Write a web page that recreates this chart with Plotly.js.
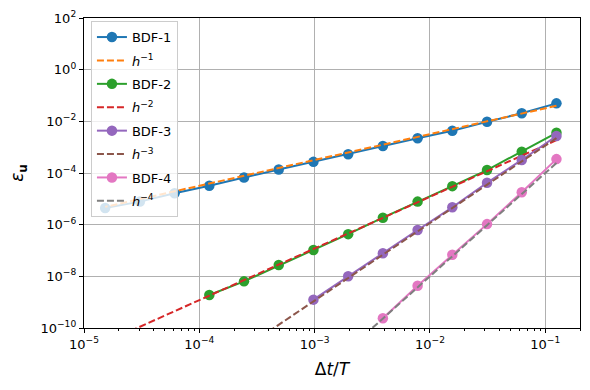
<!DOCTYPE html>
<html lang="en">
<head>
  <meta charset="UTF-8">
  <title>BDF convergence</title>
  <script src="https://cdn.plot.ly/plotly-3.0.1.min.js"></script>
  <style>
    body { margin: 0; background: #ffffff; }
    #graph { width: 590px; height: 390px; }
  </style>
</head>
<body>
  <div id="graph"></div>
  <script>
    // time step sizes dt/T
    const h = [0.125, 0.0625, 0.03125, 0.015625, 0.0078125, 0.00390625, 0.001953125,
      9.765625e-4, 4.8828125e-4, 2.44140625e-4, 1.220703125e-4, 6.103515625e-5,
      3.0517578125e-5, 1.52587890625e-5];

    const bdf1 = [0.0497, 0.0204, 0.00966, 0.00433, 0.0022, 0.00111, 5.3e-4,
      2.7e-4, 1.36e-4, 6.7e-5, 3.2e-5, 1.64e-5, 7.8e-6, 4.45e-6];
    const bdf2 = [3.6e-3, 6.7e-4, 1.3e-4, 3.1e-5, 7.8e-6, 1.86e-6, 4.3e-7,
      1.05e-7, 2.75e-8, 6.4e-9, 1.9e-9];
    const bdf3 = [2.7e-3, 3.2e-4, 4.2e-5, 4.7e-6, 6.2e-7, 7.8e-8, 1.0e-8, 1.25e-9];
    const bdf4 = [3.45e-4, 1.8e-5, 1.05e-6, 6.8e-8, 4.3e-9, 2.4e-10];

    // reference slopes
    const ref1 = [0.04, 0.02, 0.01, 0.005, 0.0025, 0.00125, 6.25e-4,
      3.125e-4, 1.5625e-4, 7.8125e-5, 3.90625e-5, 1.953e-5, 9.77e-6, 4.88e-6];
    const ref2 = [1.875e-3, 4.69e-4, 1.17e-4, 2.93e-5, 7.32e-6, 1.83e-6, 4.58e-7,
      1.14e-7, 2.86e-8, 7.15e-9, 1.79e-9, 4.47e-10, 1.12e-10, 2.79e-11];
    const ref3 = [2.25e-3, 2.81e-4, 3.51e-5, 4.39e-6, 5.48e-7, 6.85e-8, 8.57e-9,
      1.07e-9, 1.34e-10, 1.67e-11, 2.09e-12, 2.61e-13, 3.27e-14, 4.08e-15];
    const ref4 = [2.441e-4, 1.526e-5, 9.537e-7, 5.96e-8, 3.725e-9, 2.328e-10, 1.455e-11,
      9.09e-13, 5.68e-14, 3.55e-15, 2.22e-16, 1.39e-17, 8.67e-19, 5.42e-20];

    const xTicks = [1e-5, 1e-4, 1e-3, 1e-2, 1e-1];
    const xTickText = ['10<sup>−5</sup>', '10<sup>−4</sup>', '10<sup>−3</sup>', '10<sup>−2</sup>', '10<sup>−1</sup>'];
    const yTicks = [1e2, 1, 1e-2, 1e-4, 1e-6, 1e-8, 1e-10];
    const yTickText = ['10<sup>2</sup>', '10<sup>0</sup>', '10<sup>−2</sup>', '10<sup>−4</sup>',
      '10<sup>−6</sup>', '10<sup>−8</sup>', '10<sup>−10</sup>'];
    const xMinor = [];
    [1e-5, 1e-4, 1e-3, 1e-2, 1e-1].forEach(d => {
      for (let m = 2; m <= 9; m++) xMinor.push(m * d);
    });

    function solid(name, ys, color) {
      return {
        x: h.slice(0, ys.length), y: ys, name: name, legendgroup: name, mode: 'lines+markers',
        line: { color: color, width: 2 },
        marker: { color: color, size: 10.5 }
      };
    }
    function dashed(name, ys, color) {
      return {
        x: h.slice(0, ys.length), y: ys, name: name, legendgroup: name, mode: 'lines',
        line: { color: color, width: 2, dash: '7px,3px' }
      };
    }

    const traces = [
      solid('BDF-1', bdf1, '#1f77b4'),
      dashed('<i>h</i><sup>−1</sup>', ref1, '#ff7f0e'),
      solid('BDF-2', bdf2, '#2ca02c'),
      dashed('<i>h</i><sup>−2</sup>', ref2, '#d62728'),
      solid('BDF-3', bdf3, '#9467bd'),
      dashed('<i>h</i><sup>−3</sup>', ref3, '#8c564b'),
      solid('BDF-4', bdf4, '#e377c2'),
      dashed('<i>h</i><sup>−4</sup>', ref4, '#7f7f7f')
    ];

    const axisCommon = {
      type: 'log',
      showline: true, mirror: true, linecolor: '#000000', linewidth: 1.2,
      ticks: 'outside', ticklen: 4, tickcolor: '#000000',
      showgrid: true, gridcolor: '#b0b0b0', gridwidth: 1,
      zeroline: false,
      tickfont: { family: 'DejaVu Sans', size: 13, color: '#000000' }
    };

    const layout = {
      width: 590, height: 390,
      margin: { l: 84, r: 10, t: 18, b: 62 },
      paper_bgcolor: '#ffffff', plot_bgcolor: '#ffffff',
      font: { family: 'DejaVu Sans', color: '#000000' },
      xaxis: Object.assign({}, axisCommon, {
        range: [-5, Math.log10(0.2)],
        tickmode: 'array', tickvals: xTicks, ticktext: xTickText,
        minor: { tickmode: 'array', tickvals: xMinor, ticks: 'outside', ticklen: 2, tickcolor: '#000000', showgrid: false },
        title: { text: 'Δ<i>t</i>/<i>T</i>', font: { size: 17 }, standoff: 12 }
      }),
      yaxis: Object.assign({}, axisCommon, {
        range: [-10, 2],
        tickmode: 'array', tickvals: yTicks, ticktext: yTickText,
        title: { text: '<i>ε</i><sub><b>u</b></sub>', font: { size: 17 }, standoff: 12 }
      }),
      legend: {
        x: 0.014, y: 0.99, xanchor: 'left', yanchor: 'top',
        traceorder: 'grouped',
        bgcolor: 'rgba(255,255,255,0.8)', bordercolor: '#cccccc', borderwidth: 1,
        font: { family: 'DejaVu Sans', size: 13, color: '#000000' },
        tracegroupgap: 3.5
      },
      showlegend: true
    };

    Plotly.newPlot('graph', traces, layout, { displayModeBar: false, staticPlot: true });
  </script>
</body>
</html>
